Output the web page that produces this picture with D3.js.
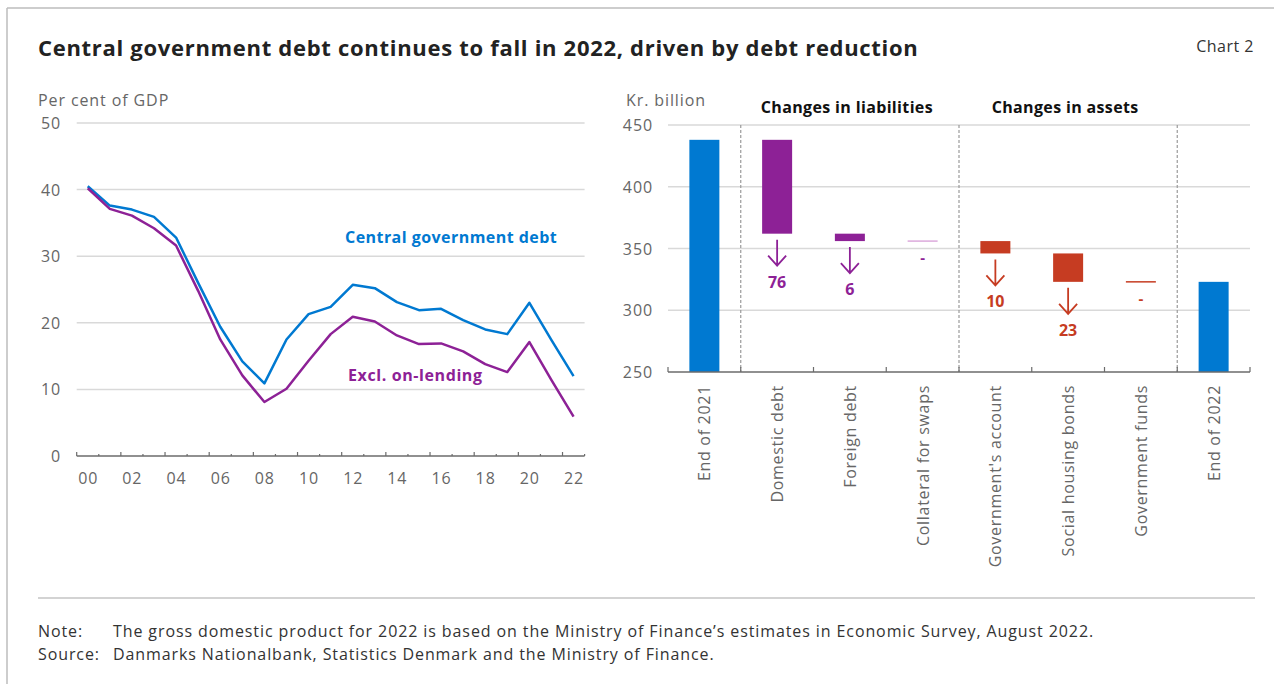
<!DOCTYPE html>
<html><head><meta charset="utf-8">
<script src="https://cdn.jsdelivr.net/npm/d3@7"></script>
<style>
body{margin:0;background:#fff;}
svg{display:block;font-family:"Open Sans",sans-serif;}
</style></head>
<body><svg id="c" width="1274" height="684"></svg>
<script>
// ---- data ----
const years = d3.range(2000, 2023);
const yearLabels = ["00","02","04","06","08","10","12","14","16","18","20","22"];
const centralDebt = [40.5,37.6,37.0,35.9,32.8,26.0,19.4,14.2,10.9,17.5,21.3,22.4,25.7,25.2,23.1,21.9,22.1,20.4,19.0,18.3,23.0,17.4,12.0];
const exclOnLending = [40.2,37.1,36.1,34.2,31.6,24.8,17.5,12.1,8.1,10.1,14.3,18.3,20.9,20.2,18.1,16.8,16.9,15.7,13.8,12.6,17.1,11.4,5.9];
const leftTicks = [0,10,20,30,40,50];

const wfCategories = ["End of 2021","Domestic debt","Foreign debt","Collateral for swaps","Government's account","Social housing bonds","Government funds","End of 2022"];
const wfValues = [438,-76,-6,0,-10,-23,0,323];
const wfLabels = ["","76","6","-","10","23","-",""];
const wfKinds = ["total","liab","liab","liabZero","asset","asset","assetZero","total"];
const rightTicks = [250,300,350,400,450];
const groupHeaders = ["Changes in liabilities","Changes in assets"];

const colors = {blue:"#0079d1", purple:"#8d2196", red:"#c63c22", lightPurple:"#dcaadc"};
const kindColor = {total:colors.blue, liab:colors.purple, liabZero:colors.lightPurple, asset:colors.red, assetZero:colors.red};
const labelColor = {liab:colors.purple, liabZero:colors.purple, asset:colors.red, assetZero:colors.red};

const svg = d3.select("#c");
const grid = "#d9d9d9", axisCol = "#6b6b6b", tickText = "#666";
const LS = 0.9; // letter spacing for regular text

// frame
svg.append("line").attr("x1",7).attr("x2",1274).attr("y1",8).attr("y2",8).attr("stroke","#bdbdbd").attr("stroke-width",1.5);
svg.append("line").attr("x1",7).attr("x2",7).attr("y1",8).attr("y2",684).attr("stroke","#bdbdbd").attr("stroke-width",1.5);

// title
svg.append("text").attr("x",38).attr("y",56).attr("font-size",22).attr("font-weight",700).attr("fill","#222")
  .attr("letter-spacing",0.7)
  .text("Central government debt continues to fall in 2022, driven by debt reduction");
svg.append("text").attr("x",1254).attr("y",52).attr("text-anchor","end").attr("font-size",16).attr("letter-spacing",0.5).attr("fill","#333").text("Chart 2");

// ---- left chart ----
const xL = d3.scaleBand().domain(years).range([76.7,584.6]);
const yL = d3.scaleLinear().domain([0,50]).range([456,123]);
const gL = svg.append("g");
gL.selectAll("line.grid").data(leftTicks.slice(1)).join("line")
  .attr("x1",76.7).attr("x2",584.6).attr("y1",d=>yL(d)).attr("y2",d=>yL(d))
  .attr("stroke",grid).attr("stroke-width",1.5);
gL.selectAll("text.yt").data(leftTicks).join("text")
  .attr("x",61).attr("y",d=>yL(d)+6).attr("text-anchor","end").attr("font-size",16).attr("letter-spacing",LS).attr("fill",tickText).text(d=>d);
gL.append("text").attr("x",38).attr("y",106).attr("font-size",16).attr("letter-spacing",LS).attr("fill",tickText).text("Per cent of GDP");
// x axis
gL.append("line").attr("x1",76.7).attr("x2",584.6).attr("y1",456).attr("y2",456).attr("stroke",axisCol).attr("stroke-width",1.5);
const bounds = years.map(y=>xL(y)).concat([xL(2022)+xL.bandwidth()]);
gL.selectAll("line.tk").data(bounds).join("line")
  .attr("x1",d=>d).attr("x2",d=>d).attr("y1",456).attr("y2",(d,i)=>i%2===0?452:454)
  .attr("stroke",axisCol).attr("stroke-width",1.2);
gL.selectAll("text.xt").data(yearLabels).join("text")
  .attr("x",d=>xL(2000+ +d)+xL.bandwidth()/2+LS/2).attr("y",484).attr("text-anchor","middle")
  .attr("font-size",16).attr("letter-spacing",LS).attr("fill",tickText).text(d=>d);
const line = d3.line().x((d,i)=>xL(years[i])+xL.bandwidth()/2).y(d=>yL(d));
gL.append("path").datum(centralDebt).attr("d",line).attr("fill","none").attr("stroke",colors.blue).attr("stroke-width",2.5).attr("stroke-linejoin","round");
gL.append("path").datum(exclOnLending).attr("d",line).attr("fill","none").attr("stroke",colors.purple).attr("stroke-width",2.5).attr("stroke-linejoin","round");
gL.append("text").attr("x",345).attr("y",243).attr("font-size",16).attr("font-weight",700).attr("letter-spacing",0.45).attr("fill",colors.blue).text("Central government debt");
gL.append("text").attr("x",348).attr("y",381).attr("font-size",16).attr("font-weight",700).attr("letter-spacing",0.6).attr("fill",colors.purple).text("Excl. on-lending");

// ---- right chart ----
const xR = d3.scaleBand().domain(wfCategories).range([668,1250]);
const yR = d3.scaleLinear().domain([250,450]).range([372,125]);
const gR = svg.append("g");
gR.selectAll("line.grid").data(rightTicks.slice(1)).join("line")
  .attr("x1",668).attr("x2",1250).attr("y1",d=>yR(d)).attr("y2",d=>yR(d))
  .attr("stroke",grid).attr("stroke-width",1.5);
gR.selectAll("text.yt").data(rightTicks).join("text")
  .attr("x",653).attr("y",d=>yR(d)+6).attr("text-anchor","end").attr("font-size",16).attr("letter-spacing",LS).attr("fill",tickText).text(d=>d);
gR.append("text").attr("x",626).attr("y",106).attr("font-size",16).attr("letter-spacing",LS).attr("fill",tickText).text("Kr. billion");
// dashed separators
[1,4,7].forEach(i=>{
  const x = xR(wfCategories[i]);
  gR.append("line").attr("x1",x).attr("x2",x).attr("y1",yR(450)).attr("y2",yR(250))
    .attr("stroke","#9a9a9a").attr("stroke-width",1.2).attr("stroke-dasharray","3,2");
});
// headers
groupHeaders.forEach((h,i)=>{
  const a = xR(wfCategories[1+3*i]), b = xR(wfCategories[4+3*i]);
  gR.append("text").attr("x",(a+b)/2-3).attr("y",113).attr("text-anchor","middle")
    .attr("font-size",16).attr("font-weight",700).attr("letter-spacing",0.35).attr("fill","#111").text(h);
});
// bars
let level = 0;
const bars = wfValues.map((v,i)=>{
  const k = wfKinds[i];
  let top, bot;
  if(k==="total"){ top=v; bot=250; level=v; }
  else { top=level; bot=level+v; level=bot; }
  return {cat:wfCategories[i], kind:k, top, bot, label:wfLabels[i]};
});
const bw = 30;
bars.forEach(b=>{
  const cx = xR(b.cat)+xR.bandwidth()/2;
  if(b.kind.endsWith("Zero")){
    gR.append("line").attr("x1",cx-bw/2).attr("x2",cx+bw/2).attr("y1",yR(b.top)).attr("y2",yR(b.top))
      .attr("stroke",kindColor[b.kind]).attr("stroke-width",1.5);
  } else {
    gR.append("rect").attr("x",cx-bw/2).attr("width",bw).attr("y",yR(b.top)).attr("height",yR(b.bot)-yR(b.top))
      .attr("fill",kindColor[b.kind]);
  }
  if(b.kind==="total") return;
  const base = yR(b.bot);
  const col = labelColor[b.kind];
  if(b.kind.endsWith("Zero")){
    gR.append("text").attr("x",cx).attr("y",base+22).attr("text-anchor","middle").attr("font-size",15)
      .attr("font-weight",700).attr("fill",col).text(b.label);
  } else {
    const a0 = base+6, a1 = base+32;
    gR.append("path").attr("d",`M${cx},${a0}V${a1}M${cx-9},${a1-10}L${cx},${a1}L${cx+9},${a1-10}`)
      .attr("fill","none").attr("stroke",col).attr("stroke-width",1.8);
    gR.append("text").attr("x",cx).attr("y",a1+22).attr("text-anchor","middle").attr("font-size",16)
      .attr("font-weight",700).attr("fill",col).text(b.label);
  }
});
// x axis
gR.append("line").attr("x1",668).attr("x2",1250).attr("y1",372).attr("y2",372).attr("stroke",axisCol).attr("stroke-width",1.5);
const rb = wfCategories.map(c=>xR(c)).concat([1250]);
gR.selectAll("line.tk").data(rb).join("line")
  .attr("x1",d=>d).attr("x2",d=>d).attr("y1",372).attr("y2",367).attr("stroke",axisCol).attr("stroke-width",1.2);
gR.selectAll("text.xt").data(wfCategories).join("text")
  .attr("transform",d=>`translate(${xR(d)+xR.bandwidth()/2+6},385) rotate(-90)`)
  .attr("text-anchor","end").attr("font-size",16).attr("letter-spacing",0.7).attr("fill",tickText).text(d=>d);

// ---- footer ----
svg.append("line").attr("x1",38).attr("x2",1255).attr("y1",598).attr("y2",598).attr("stroke","#c4c4c4").attr("stroke-width",1.5);
const foot = svg.append("g").attr("font-size",16).attr("letter-spacing",0.9).attr("fill","#333");
foot.append("text").attr("x",38).attr("y",637).text("Note:");
foot.append("text").attr("x",113).attr("y",637).text("The gross domestic product for 2022 is based on the Ministry of Finance’s estimates in Economic Survey, August 2022.");
foot.append("text").attr("x",38).attr("y",660).text("Source:");
foot.append("text").attr("x",113).attr("y",660).text("Danmarks Nationalbank, Statistics Denmark and the Ministry of Finance.");
</script></body></html>
